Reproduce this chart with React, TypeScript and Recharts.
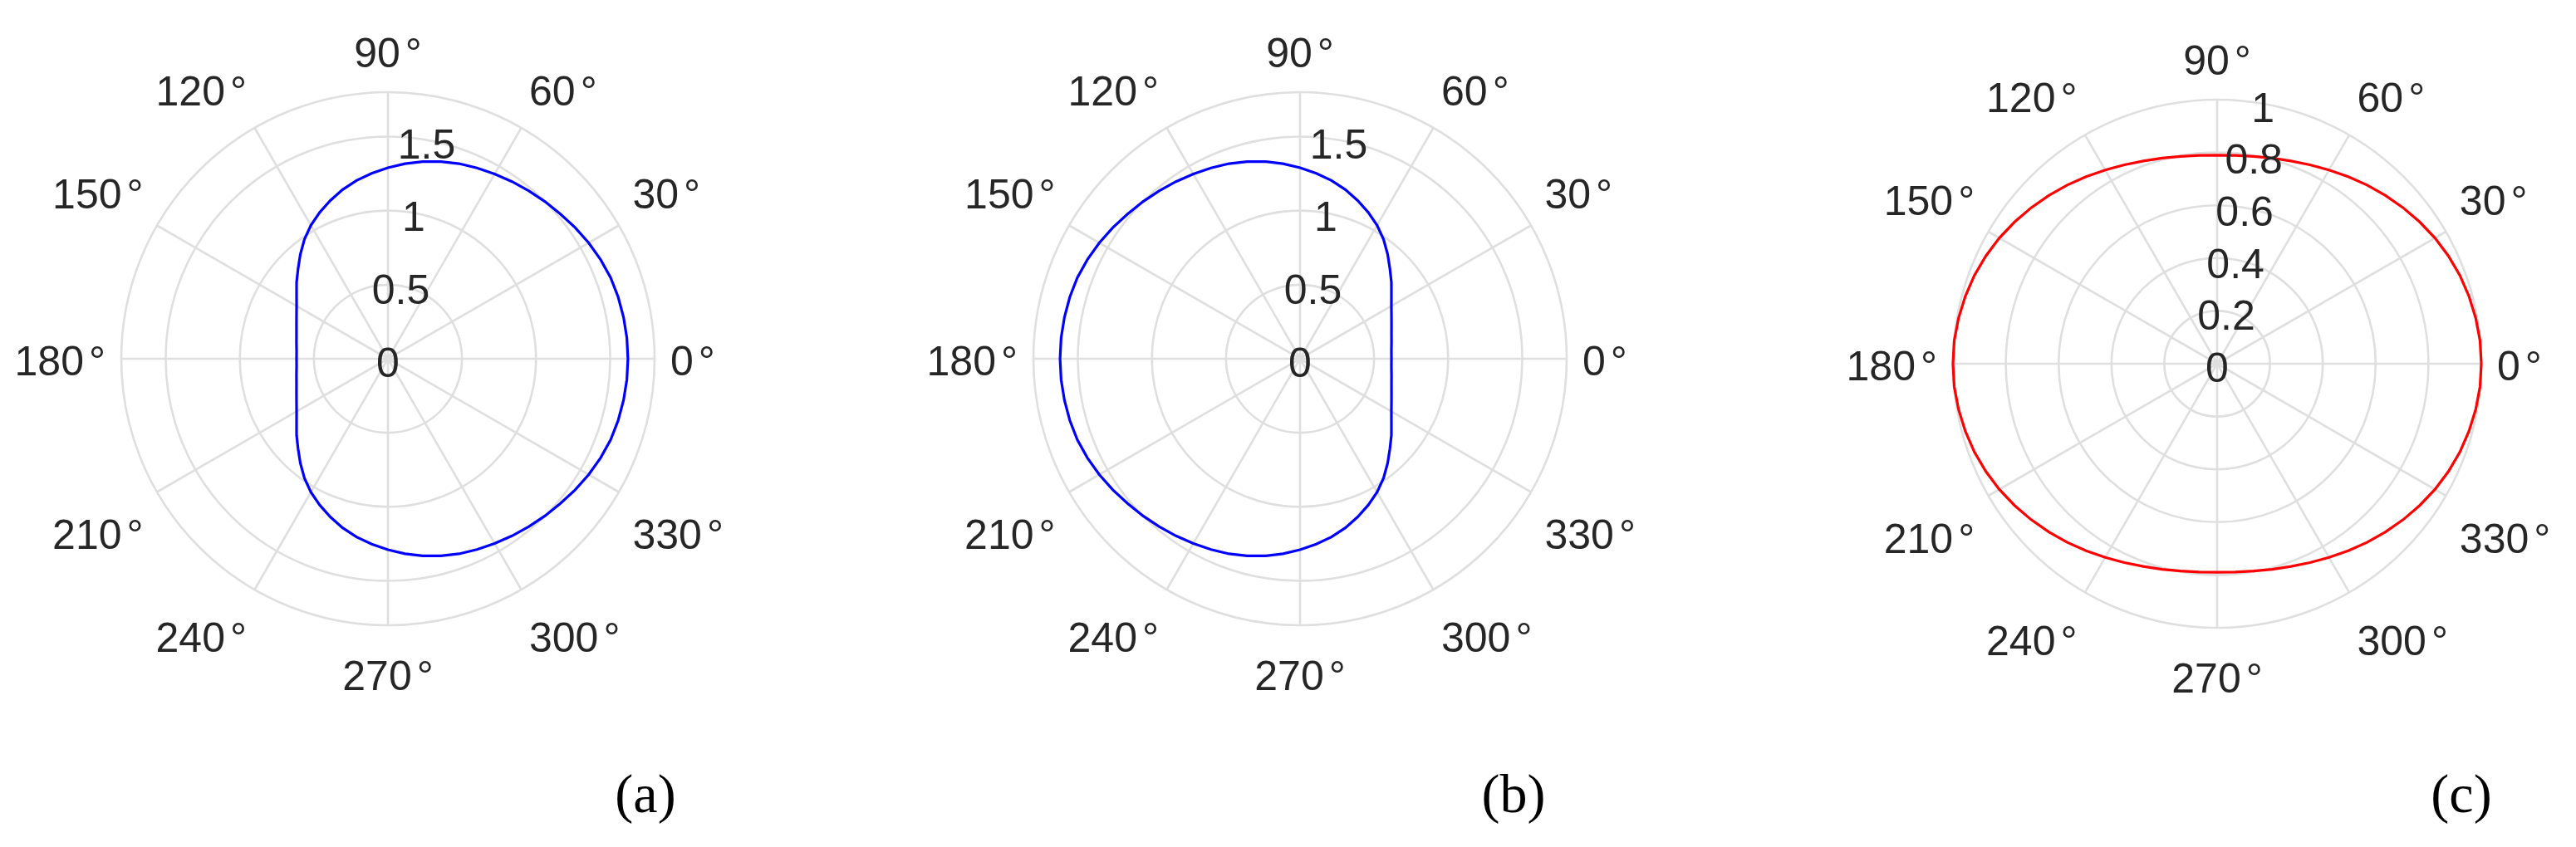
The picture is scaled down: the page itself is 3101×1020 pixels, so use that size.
import React from "react";
import { RadarChart, Radar, PolarGrid, PolarAngleAxis, PolarRadiusAxis } from "recharts";

// angle samples (deg), every 5 degrees
const angles = [
  0, 5, 10, 15, 20, 25, 30, 35, 40, 45, 50, 55, 60, 65, 70, 75, 80, 85,
  90, 95, 100, 105, 110, 115, 120, 125, 130, 135, 140, 145, 150, 155, 160, 165, 170, 175,
  180, 185, 190, 195, 200, 205, 210, 215, 220, 225, 230, 235, 240, 245, 250, 255, 260, 265,
  270, 275, 280, 285, 290, 295, 300, 305, 310, 315, 320, 325, 330, 335, 340, 345, 350, 355,
];

// (a) D-shape, flat side towards 180°
const radiusA = [
  1.62, 1.619, 1.615, 1.609, 1.6, 1.584, 1.565, 1.543, 1.52, 1.5, 1.48, 1.46, 1.44, 1.422, 1.402, 1.378, 1.352, 1.322,
  1.29, 1.257, 1.222, 1.182, 1.137, 1.09, 1.04, 0.983, 0.92, 0.858, 0.805, 0.753, 0.712, 0.681, 0.657, 0.639, 0.627, 0.619,
  0.617, 0.619, 0.627, 0.639, 0.657, 0.681, 0.712, 0.753, 0.805, 0.858, 0.92, 0.983, 1.04, 1.09, 1.137, 1.182, 1.222, 1.257,
  1.29, 1.322, 1.352, 1.378, 1.402, 1.422, 1.44, 1.46, 1.48, 1.5, 1.52, 1.543, 1.565, 1.584, 1.6, 1.609, 1.615, 1.619,
];

// (b) same shape, flat side towards 0°
const radiusB = [
  0.617, 0.619, 0.627, 0.639, 0.657, 0.681, 0.712, 0.753, 0.805, 0.858, 0.92, 0.983, 1.04, 1.09, 1.137, 1.182, 1.222, 1.257,
  1.29, 1.322, 1.352, 1.378, 1.402, 1.422, 1.44, 1.46, 1.48, 1.5, 1.52, 1.543, 1.565, 1.584, 1.6, 1.609, 1.615, 1.619,
  1.62, 1.619, 1.615, 1.609, 1.6, 1.584, 1.565, 1.543, 1.52, 1.5, 1.48, 1.46, 1.44, 1.422, 1.402, 1.378, 1.352, 1.322,
  1.29, 1.257, 1.222, 1.182, 1.137, 1.09, 1.04, 0.983, 0.92, 0.858, 0.805, 0.753, 0.712, 0.681, 0.657, 0.639, 0.627, 0.619,
];

// (c) flattened oval
const radiusC = [
  1.0, 0.999, 0.994, 0.987, 0.978, 0.966, 0.952, 0.936, 0.919, 0.901, 0.883, 0.865, 0.847, 0.831, 0.817, 0.806, 0.797, 0.792,
  0.79, 0.792, 0.797, 0.806, 0.817, 0.831, 0.847, 0.865, 0.883, 0.901, 0.919, 0.936, 0.952, 0.966, 0.978, 0.987, 0.994, 0.999,
  1.0, 0.999, 0.994, 0.987, 0.978, 0.966, 0.952, 0.936, 0.919, 0.901, 0.883, 0.865, 0.847, 0.831, 0.817, 0.806, 0.797, 0.792,
  0.79, 0.792, 0.797, 0.806, 0.817, 0.831, 0.847, 0.865, 0.883, 0.901, 0.919, 0.936, 0.952, 0.966, 0.978, 0.987, 0.994, 0.999,
];

const thetaTicks = [0, 30, 60, 90, 120, 150, 180, 210, 240, 270, 300, 330];
const rTicksAB = [0, 0.5, 1, 1.5, 1.8];
const rTicksC = [0, 0.2, 0.4, 0.6, 0.8, 1];
const captions = ["(a)", "(b)", "(c)"];

const FONT = "'Liberation Sans', Arial, Helvetica, sans-serif";
const FS = 50;
const TEXT = "#262626";
const GRID = "#dfdfdf";

// theta labels: left/right aligned on the sides, sitting above (upper half) or below (lower half) the anchor point
function AngleTick(props: any) {
  const { x, y, payload } = props;
  const deg = Number(payload.value);
  const rad = (deg * Math.PI) / 180;
  const c = Math.cos(rad);
  const s = Math.sin(rad);
  const anchor = c > 1e-6 ? "start" : c < -1e-6 ? "end" : "middle";
  const baseline = s > 1e-6 ? y - 11 : s < -1e-6 ? y + 59 : y + 20;
  return (
    <text x={x} y={baseline} textAnchor={anchor} fontFamily={FONT} fontSize={FS} fill={TEXT}>
      {String(deg)}
      <tspan dx={6}>°</tspan>
    </text>
  );
}

function radiusTick(hidden: number | null) {
  return (props: any) => {
    const { x, y, payload } = props;
    if (hidden !== null && Number(payload.value) === hidden) return <g />;
    return (
      <text x={x} y={y + 22} textAnchor="middle" fontFamily={FONT} fontSize={FS} fill={TEXT}>
        {String(payload.value)}
      </text>
    );
  };
}

function PolarPanel({
  left,
  width,
  cx,
  cy,
  radius,
  values,
  rMax,
  rTicks,
  rTickCount,
  color,
}: {
  left: number;
  width: number;
  cx: number;
  cy: number;
  radius: number;
  values: number[];
  rMax: number;
  rTicks: number[];
  rTickCount: number;
  color: string;
}) {
  const data = angles.map((a, i) => ({ angle: a, r: values[i] }));
  const hidden = rTicks[rTicks.length - 1] === 1.8 ? 1.8 : null;
  return (
    <div style={{ position: "absolute", left, top: 0 }}>
      <RadarChart
        width={width}
        height={1020}
        data={data}
        cx={cx}
        cy={cy}
        outerRadius={radius}
        innerRadius={0}
        startAngle={0}
        endAngle={360}
        margin={{ top: 0, right: 0, bottom: 0, left: 0 }}
      >
        <PolarGrid gridType="circle" stroke={GRID} strokeWidth={2.6} />
        <PolarAngleAxis
          dataKey="angle"
          type="number"
          domain={[0, 360]}
          ticks={thetaTicks}
          tick={<AngleTick />}
          tickSize={19}
          axisLine={false}
          tickLine={false}
        />
        <PolarRadiusAxis
          angle={80}
          type="number"
          scale="linear"
          domain={[0, rMax]}
          allowDataOverflow
          allowDecimals
          tickCount={rTickCount}
          ticks={rTicks}
          tick={radiusTick(hidden)}
          axisLine={false}
          tickLine={false}
        />
        <Radar
          dataKey="r"
          stroke={color}
          strokeWidth={3.2}
          fill="none"
          fillOpacity={0}
          dot={false}
          isAnimationActive={false}
        />
      </RadarChart>
    </div>
  );
}

export default function App() {
  const capX = [777, 1822, 2963];
  return (
    <div style={{ position: "absolute", left: 0, top: 0, width: 3101, height: 1020, background: "#fff", overflow: "hidden" }}>
      <PolarPanel left={0} width={1034} cx={467} cy={432} radius={321} values={radiusA} rMax={1.8} rTicks={rTicksAB} rTickCount={10} color="#0000ff" />
      <PolarPanel left={1034} width={1034} cx={531} cy={432} radius={321} values={radiusB} rMax={1.8} rTicks={rTicksAB} rTickCount={10} color="#0000ff" />
      <PolarPanel left={2068} width={1033} cx={601} cy={438} radius={318} values={radiusC} rMax={1} rTicks={rTicksC} rTickCount={6} color="#ff0000" />
      {captions.map((c, i) => (
        <div
          key={c}
          style={{
            position: "absolute",
            left: capX[i] - 100,
            width: 200,
            top: 978 - 60,
            textAlign: "center",
            fontFamily: "'Liberation Serif', 'Times New Roman', serif",
            fontSize: 66,
            lineHeight: "76px",
            color: "#000",
          }}
        >
          {c}
        </div>
      ))}
    </div>
  );
}
